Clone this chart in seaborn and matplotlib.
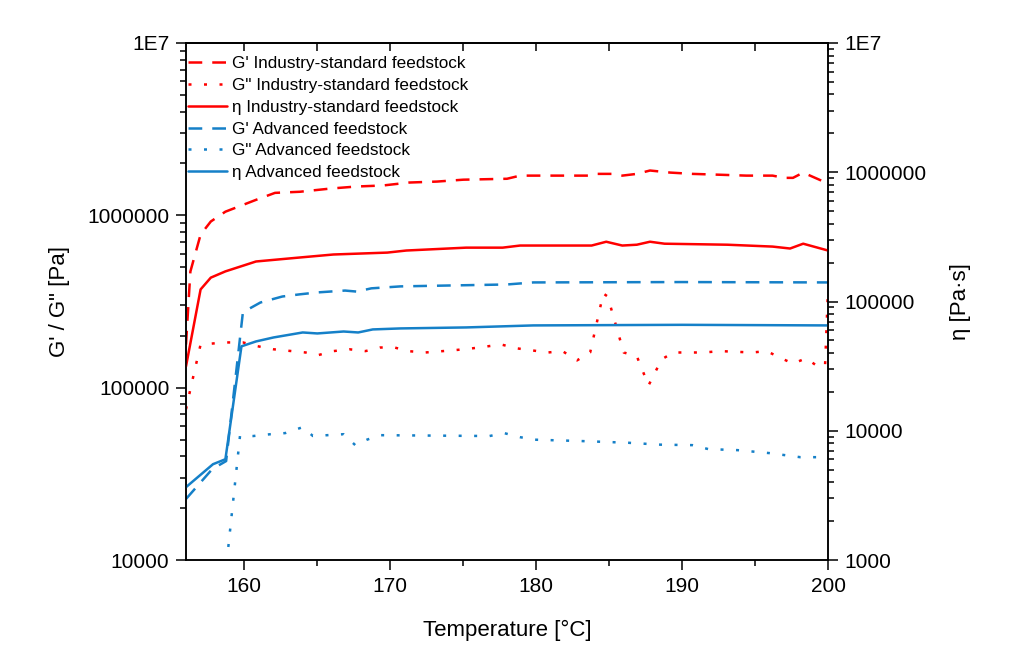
import seaborn as sns
import matplotlib
matplotlib.use("Agg")
import matplotlib.pyplot as plt
from matplotlib.ticker import FixedLocator, FixedFormatter, LogLocator, MultipleLocator, NullFormatter

# G' industry-standard feedstock [Pa]
ind_gp_temp = [156.0, 156.3, 157.0, 157.7, 158.7, 160.8, 162.1, 163.8, 165.9, 167.7,
               169.5, 171.3, 173.2, 175.0, 178.0, 178.9, 182.1, 183.7, 184.2, 185.2,
               185.9, 186.9, 187.8, 189.2, 190.7, 192.6, 194.4, 196.2, 197.0, 197.6,
               198.3, 200.0]
ind_gp = [178000, 472000, 773000, 921000, 1050000, 1230000, 1350000, 1370000, 1430000, 1470000,
          1490000, 1550000, 1570000, 1610000, 1630000, 1700000, 1700000, 1700000, 1740000, 1740000,
          1700000, 1740000, 1820000, 1770000, 1740000, 1720000, 1700000, 1700000, 1650000, 1650000,
          1770000, 1530000]

# G'' industry-standard feedstock [Pa]
ind_gpp_temp = [156.0, 156.3, 157.0, 158.7, 159.9, 160.9, 162.0, 164.2, 165.0, 166.1,
                167.2, 168.3, 169.3, 170.3, 171.2, 172.4, 174.4, 175.6, 177.6, 178.7,
                180.8, 181.8, 182.8, 183.7, 184.6, 184.9, 186.0, 186.9, 187.7, 188.6,
                189.4, 191.5, 192.6, 194.8, 195.8, 196.8, 197.6, 198.5, 199.4, 199.8,
                200.0]
ind_gpp = [75000, 98000, 178000, 183000, 183000, 174000, 167000, 160000, 154000, 163000,
           167000, 163000, 171000, 171000, 163000, 160000, 165000, 169000, 178000, 169000,
           160000, 163000, 144000, 160000, 352000, 338000, 160000, 152000, 103000, 146000,
           160000, 160000, 163000, 160000, 163000, 148000, 138000, 148000, 131000, 135000,
           372000]

# eta industry-standard feedstock [Pa s]
ind_eta_temp = [156.0, 157.0, 157.7, 158.7, 160.8, 163.8, 166.1, 169.8, 171.1, 175.2,
                177.7, 178.9, 183.8, 184.8, 185.9, 186.9, 187.8, 188.8, 193.1, 196.2,
                197.4, 198.3, 200.0]
ind_eta = [31500, 124000, 153000, 171000, 204000, 219000, 231000, 239000, 248000, 261000,
           261000, 271000, 271000, 290000, 271000, 275000, 290000, 280000, 275000, 266000,
           257000, 280000, 248000]

# G' advanced feedstock [Pa]
adv_gp_temp = [156.0, 157.8, 158.75, 159.9, 161.1, 162.6, 163.8, 165.0, 166.9, 167.7,
               168.7, 170.7, 174.3, 178.0, 179.8, 190.0, 200.0]
adv_gp = [22600, 33700, 37500, 274000, 312000, 338000, 348000, 357000, 366000, 361000,
          377000, 387000, 392000, 397000, 408000, 410000, 408000]

# G'' advanced feedstock [Pa]
adv_gpp_temp = [158.9, 159.7, 160.6, 161.8, 162.8, 164.0, 164.7, 166.8, 167.6, 168.4,
                169.3, 176.8, 177.8, 178.9, 179.9, 183.1, 186.3, 188.5, 190.7, 191.8,
                193.8, 196.0, 198.1, 199.2, 200.0]
adv_gpp = [11900, 52400, 52400, 53700, 54500, 59000, 52400, 53700, 46400, 49900,
           53000, 52400, 54500, 51600, 49900, 49000, 47900, 46700, 46400, 44000,
           43400, 41700, 39500, 39500, 36700]

# eta advanced feedstock [Pa s]
adv_eta_temp = [156.0, 157.85, 158.7, 159.8, 160.8, 162.0, 164.0, 165.0, 166.8, 167.8,
                168.8, 170.7, 175.2, 179.8, 190.0, 200.0]
adv_eta = [3660, 5510, 6020, 45000, 49100, 52700, 57600, 56600, 58600, 57600,
           60800, 61900, 63000, 65300, 66000, 65300]

left_ticks = [1e4, 1e5, 1e6, 1e7]
left_labels = ["10000", "100000", "1000000", "1E7"]
right_ticks = [1e3, 1e4, 1e5, 1e6, 1e7]
right_labels = ["1000", "10000", "100000", "1000000", "1E7"]

RED = "#ff0000"
BLUE = "#1580c8"
DASH = (0, (5.5, 4.0))
DOT = (0, (1.2, 5.0))
LW = 1.8

sns.set_style("ticks")
plt.rcParams["font.family"] = ["Liberation Sans", "DejaVu Sans"]
plt.rcParams["axes.linewidth"] = 1.1
plt.rcParams["text.color"] = "black"
plt.rcParams["axes.labelcolor"] = "black"
plt.rcParams["axes.edgecolor"] = "black"
plt.rcParams["xtick.color"] = "black"
plt.rcParams["ytick.color"] = "black"

fig = plt.figure(figsize=(10.24, 6.7), dpi=100)
ax = fig.add_axes([186 / 1024, 1 - 560 / 670, 642 / 1024, 517 / 670])
ax2 = ax.twinx()

sns.lineplot(x=ind_gp_temp, y=ind_gp, ax=ax, color=RED, linewidth=LW, linestyle=DASH,
             errorbar=None, label="G' Industry-standard feedstock")
sns.lineplot(x=ind_gpp_temp, y=ind_gpp, ax=ax, color=RED, linewidth=LW, linestyle=DOT,
             errorbar=None, label='G" Industry-standard feedstock')
sns.lineplot(x=ind_eta_temp, y=ind_eta, ax=ax2, color=RED, linewidth=LW, linestyle="-",
             errorbar=None, label="η Industry-standard feedstock")
sns.lineplot(x=adv_gp_temp, y=adv_gp, ax=ax, color=BLUE, linewidth=LW, linestyle=DASH,
             errorbar=None, label="G' Advanced feedstock")
sns.lineplot(x=adv_gpp_temp, y=adv_gpp, ax=ax, color=BLUE, linewidth=LW, linestyle=DOT,
             errorbar=None, label='G" Advanced feedstock')
sns.lineplot(x=adv_eta_temp, y=adv_eta, ax=ax2, color=BLUE, linewidth=LW, linestyle="-",
             errorbar=None, label="η Advanced feedstock")

ax.set_yscale("log")
ax2.set_yscale("log")
ax.set_xlim(156, 200)
ax.set_ylim(1e4, 1e7)
ax2.set_ylim(1e3, 1e7)

ax.xaxis.set_major_locator(MultipleLocator(10))
ax.xaxis.set_minor_locator(MultipleLocator(5))
ax.yaxis.set_major_locator(FixedLocator(left_ticks))
ax.yaxis.set_major_formatter(FixedFormatter(left_labels))
ax.yaxis.set_minor_locator(LogLocator(base=10, subs=range(2, 10)))
ax.yaxis.set_minor_formatter(NullFormatter())
ax2.yaxis.set_major_locator(FixedLocator(right_ticks))
ax2.yaxis.set_major_formatter(FixedFormatter(right_labels))
ax2.yaxis.set_minor_locator(LogLocator(base=10, subs=range(2, 10)))
ax2.yaxis.set_minor_formatter(NullFormatter())

ax.tick_params(axis="both", which="major", direction="out", length=7, width=1.1,
               labelsize=15, pad=5, color="black", labelcolor="black")
ax.tick_params(axis="both", which="minor", direction="out", length=4, width=1.1, color="black")
ax2.tick_params(axis="y", which="major", direction="out", length=7, width=1.1,
                labelsize=15, pad=5, color="black", labelcolor="black")
ax2.tick_params(axis="y", which="minor", direction="out", length=4, width=1.1, color="black")

top = ax.secondary_xaxis("top")
top.xaxis.set_major_locator(MultipleLocator(5))
top.tick_params(direction="in", length=6, width=1.1, labeltop=False, color="black")

ax.set_xlabel("Temperature [°C]", fontsize=16, color="black")
ax.set_ylabel('G\' / G" [Pa]', fontsize=16, color="black")
ax2.set_ylabel("η [Pa·s]", fontsize=16, color="black")
ax.xaxis.set_label_coords(0.5, -0.116)
ax.yaxis.set_label_coords(-0.18, 0.5)
ax2.yaxis.set_label_coords(1.19, 0.5)

h1, l1 = ax.get_legend_handles_labels()
h2, l2 = ax2.get_legend_handles_labels()
if ax.get_legend() is not None:
    ax.get_legend().remove()
if ax2.get_legend() is not None:
    ax2.get_legend().remove()
handles = dict(zip(l1 + l2, h1 + h2))
order = ["G' Industry-standard feedstock", 'G" Industry-standard feedstock',
         "η Industry-standard feedstock", "G' Advanced feedstock",
         'G" Advanced feedstock', "η Advanced feedstock"]
leg = ax2.legend([handles[k] for k in order], order, loc="upper left",
                 bbox_to_anchor=(0.0, 0.978), frameon=False, fontsize=12.3,
                 handlelength=2.3, handletextpad=0.3, labelspacing=0.4,
                 borderpad=0.1, borderaxespad=0)
for t in leg.get_texts():
    t.set_color("black")

fig.savefig("out.png", dpi=100, facecolor="white")
